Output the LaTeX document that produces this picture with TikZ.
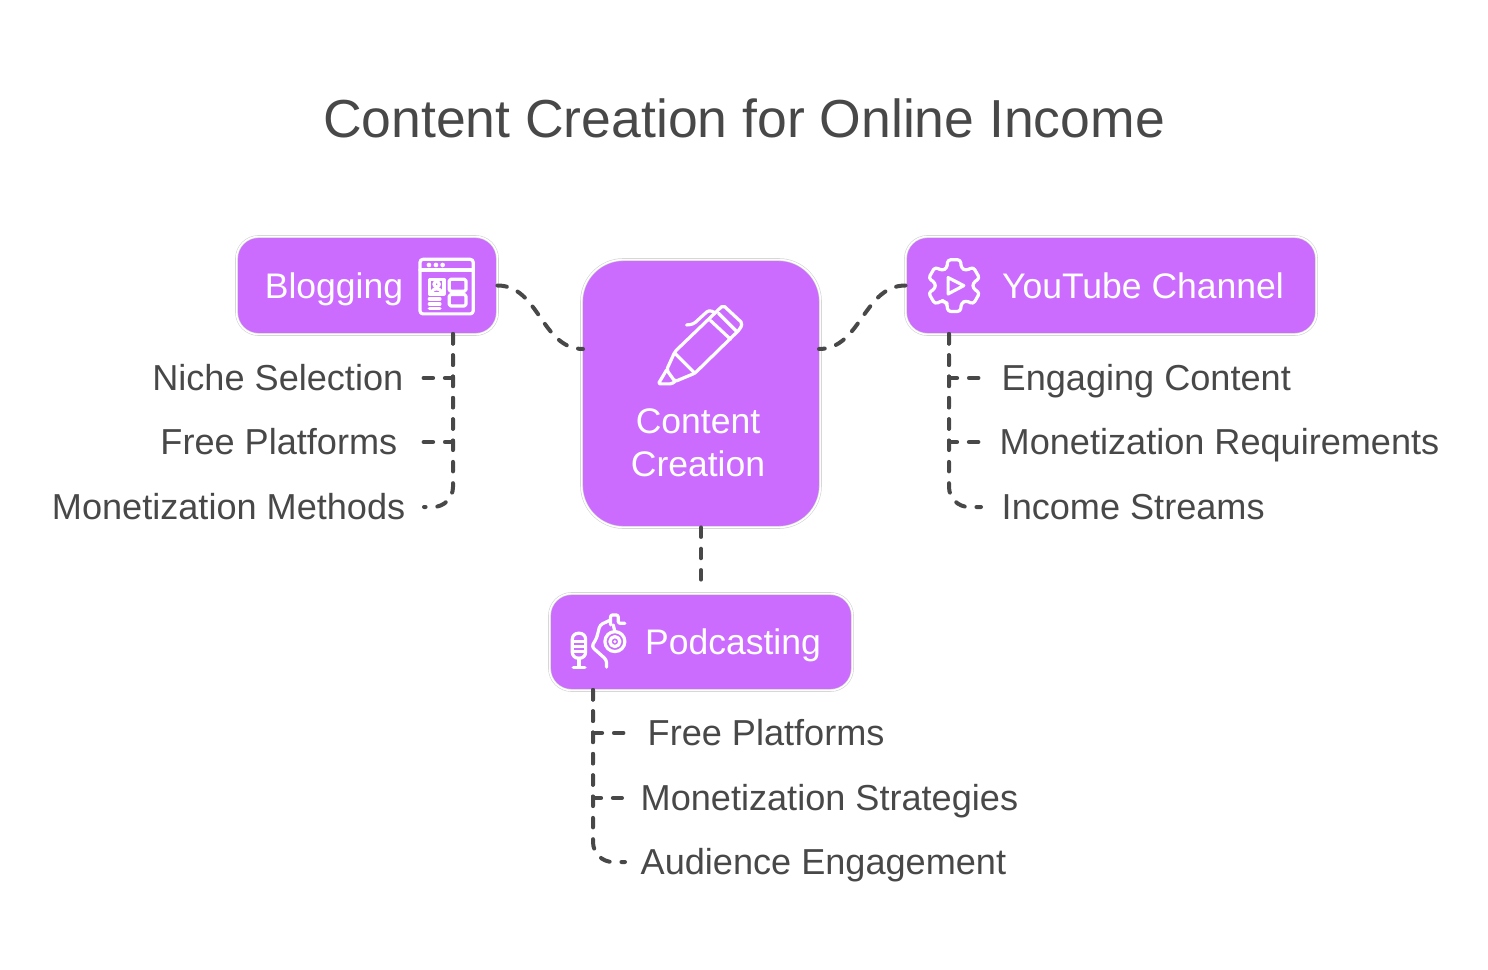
\documentclass[tikz,border=0pt]{standalone}
\usepackage{fontspec}
\setmainfont{Liberation Sans}
\definecolor{boxpurple}{HTML}{CB6CFF}
\definecolor{inkgray}{HTML}{484848}
\definecolor{rimgray}{HTML}{D2D2D2}
\tikzset{
  boxnode/.style={fill=boxpurple, draw=rimgray, line width=0.006cm, double=white, double distance=0.016cm, outer sep=0pt, rounded corners=0.22cm},
  boxtext/.style={text=white, font=\fontsize{10.1}{12.3}\selectfont, inner sep=0pt, align=center},
  oneline/.style={text height=0.26cm, text depth=0.02cm},
  itemtext/.style={text=inkgray, font=\fontsize{10.27}{12.3}\selectfont, inner ysep=0pt, inner xsep=0.18cm, text height=0.26cm, text depth=0.02cm},
  conn/.style={draw=inkgray, line width=0.04cm, line cap=round, dash pattern=on 0.095cm off 0.118cm},
  iconline/.style={draw=white, line width=0.032cm, line cap=round, line join=round}
}
\begin{document}
\begin{tikzpicture}[x=0.01cm, y=-0.01cm]
        \useasboundingbox (0,0) rectangle (1488,970);

        \node[text=inkgray, font=\fontsize{15.22}{18}\selectfont, inner sep=0pt] (title) at (744,118) {Content Creation for Online Income};

        \node[boxnode, minimum width=2.607cm, minimum height=0.978cm] (blogging) at (367,285.5) {};
        \node[boxnode, rounded corners=0.42cm, minimum width=2.387cm, minimum height=2.677cm] (content) at (701,393.5) {};
        \node[boxnode, minimum width=4.107cm, minimum height=0.978cm] (youtube) at (1111,285.5) {};
        \node[boxnode, minimum width=3.027cm, minimum height=0.968cm] (podcasting) at (701,642) {};

        \node[boxtext, oneline] (bloggingtext) at (334,286) {Blogging};
        \node[boxtext] (contenttext) at (698,442.5) {Content\\Creation};
        \node[boxtext, oneline] (youtubetext) at (1143,286) {YouTube Channel};
        \node[boxtext, oneline] (podcastingtext) at (733,642) {Podcasting};

        \node[itemtext, anchor=east] (niche) at (422,378) {Niche Selection};
        \node[itemtext, anchor=east] (freeleft) at (416,442) {Free Platforms};
        \node[itemtext, anchor=east] (methods) at (424,507) {Monetization Methods};

        \node[itemtext, anchor=west] (engaging) at (983,378) {Engaging Content};
        \node[itemtext, anchor=west] (requirements) at (981,442) {Monetization Requirements};
        \node[itemtext, anchor=west, inner xsep=0.2cm] (streams) at (981,507) {Income Streams};

        \node[itemtext, anchor=west] (freepod) at (629,733) {Free Platforms};
        \node[itemtext, anchor=west] (strategies) at (622,798) {Monetization Strategies};
        \node[itemtext, anchor=west, inner xsep=0.15cm] (audience) at (625,862) {Audience Engagement};

        \coordinate (blogtrunk) at (453,334);
        \coordinate (tubetrunk) at (949,334);
        \coordinate (podtrunk) at (593,690);
        \coordinate (contentleft) at (583,349);
        \coordinate (contentright) at (819,349);

        \draw[conn] (blogging.east) to[out=0, in=180] (contentleft);
        \draw[conn] (youtube.west) to[out=180, in=0] (contentright);
        \draw[conn, shorten >=0.11cm] (content.south) -- (podcasting.north);

        \draw[conn] (blogtrunk) |- (niche.east);
        \draw[conn] (blogtrunk) |- (freeleft.east);
        \draw[conn, rounded corners=0.2cm] (blogtrunk) |- (methods.east);

        \draw[conn] (tubetrunk) |- (engaging.west);
        \draw[conn] (tubetrunk) |- (requirements.west);
        \draw[conn, rounded corners=0.2cm] (tubetrunk) |- (streams.west);

        \draw[conn] (podtrunk) |- (freepod.west);
        \draw[conn] (podtrunk) |- (strategies.west);
        \draw[conn, rounded corners=0.2cm] (podtrunk) |- (audience.west);

        \begin{scope}[shift={(410,250)}, x=0.00333cm, y=-0.00333cm]
            \draw[iconline, rounded corners=0.03cm] (30,28) rectangle (190,192);
            \draw[iconline] (30,60) -- (190,60);
            \foreach \x in {57,78,98}
                \fill[white] (\x,45) circle (7);
            \draw[iconline] (58,88) rectangle (102,132);
            \draw[iconline] (80,103) circle (8);
            \draw[iconline] (64,130) .. controls (66,112) and (94,112) .. (96,130);
            \foreach \y in {147,162,176}
                \draw[iconline] (58,\y) -- (90,\y);
            \draw[iconline, rounded corners=0.015cm] (118,88) rectangle (168,124);
            \draw[iconline, rounded corners=0.015cm] (118,134) rectangle (168,168);
        \end{scope}

        \begin{scope}[shift={(640,290)}, x=0.00333cm, y=-0.00333cm]
            \draw[iconline, rounded corners=0.02cm] (105,185) -- (237,58) -- (250,46) -- (308,100) -- (300,118) -- (165,250) -- (105,275) -- (80,240) -- cycle;
            \draw[iconline] (105,190) -- (165,250);
            \draw[iconline] (212,92) -- (272,148);
            \draw[iconline] (236,70) -- (290,124);
            \draw[iconline, rounded corners=0.015cm] (80,240) -- (55,282) -- (95,282) -- (105,275);
            \draw[iconline, rounded corners=0.03cm] (140,105) -- (160,103) -- (207,60) -- (225,68);
        \end{scope}

        \begin{scope}[shift={(815,240)}, x=0.00333cm, y=-0.00333cm]
            \begin{scope}[shift={(418,137)}]
                \draw[iconline, rounded corners=0.03cm] (120:57) \foreach \a in {90,30,-30,-90,-150,-210} { -- (\a+22:57) -- (\a+14:80) -- (\a-14:80) -- (\a-22:57)} -- cycle;
            \end{scope}
            \draw[iconline] (400,113) -- (400,162) -- (447,137) -- cycle;
        \end{scope}

        \begin{scope}[shift={(545,590)}, x=0.00333cm, y=-0.00333cm]
            \draw[iconline, rounded corners=0.06cm] (82,130) rectangle (122,205);
            \foreach \y in {155,170,185}
                \draw[iconline] (84,\y) -- (120,\y);
            \draw[iconline] (102,205) -- (102,232);
            \draw[iconline] (85,232) -- (120,232);
            \draw[iconline, rounded corners=0.03cm] (185,232) -- (185,210) -- (140,170) -- (155,145) -- (165,105) -- (197,90);
            \draw[iconline, rounded corners=0.02cm] (197,105) -- (197,75) -- (220,75) -- (220,100) -- (240,100);
            \draw[iconline] (205,105) -- (210,125);
            \draw[iconline] (210,155) circle (30);
            \draw[iconline] (210,155) circle (15);
            \fill[white] (210,155) circle (5);
        \end{scope}
\end{tikzpicture}
\end{document}
